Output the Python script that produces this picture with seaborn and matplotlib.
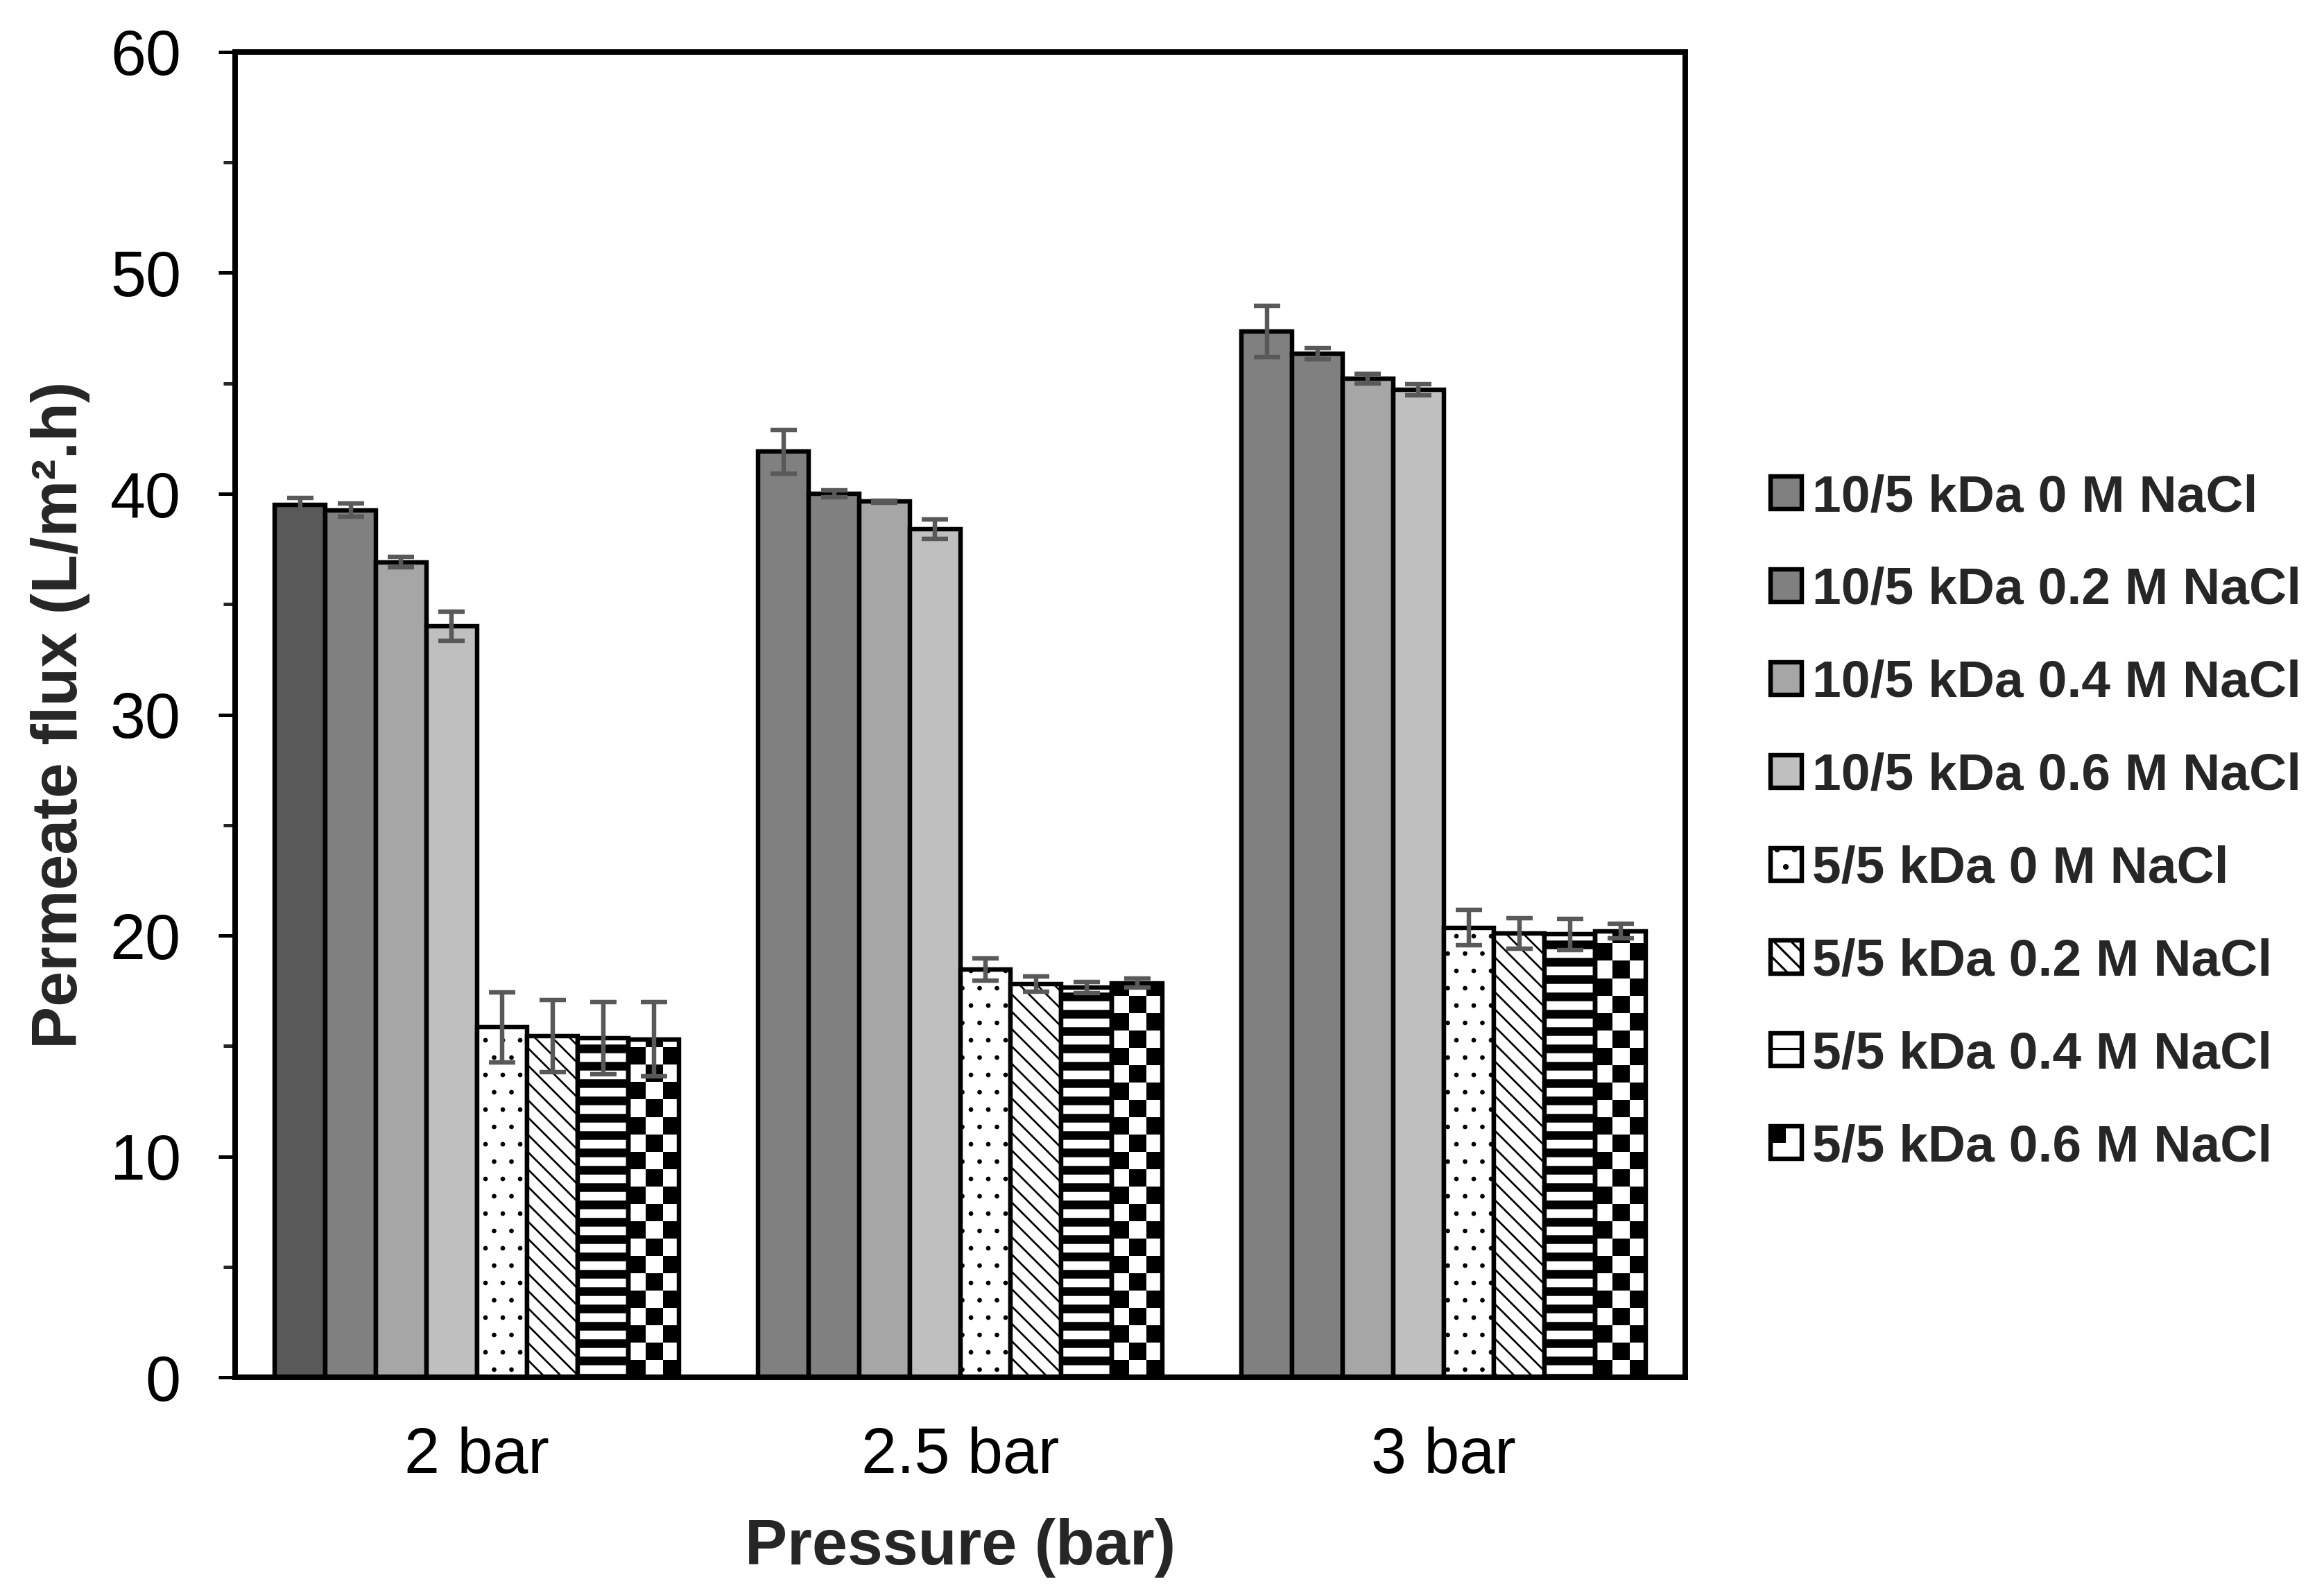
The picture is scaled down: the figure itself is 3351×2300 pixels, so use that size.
import numpy as np
import pandas as pd
import seaborn as sns
import matplotlib.pyplot as plt
import matplotlib.patches as mpatches
from matplotlib.colors import ListedColormap
from matplotlib.legend_handler import HandlerBase
from matplotlib.ticker import MultipleLocator

pressures = ['2 bar', '2.5 bar', '3 bar']
series = [
    '10/5 kDa 0 M NaCl',
    '10/5 kDa 0.2 M NaCl',
    '10/5 kDa 0.4 M NaCl',
    '10/5 kDa 0.6 M NaCl',
    '5/5 kDa 0 M NaCl',
    '5/5 kDa 0.2 M NaCl',
    '5/5 kDa 0.4 M NaCl',
    '5/5 kDa 0.6 M NaCl',
]

# permeate flux per series, one value per pressure
flux_10_0 = [39.5, 41.9, 47.35]
flux_10_02 = [39.25, 40.0, 46.35]
flux_10_04 = [36.9, 39.65, 45.2]
flux_10_06 = [34.0, 38.4, 44.7]
flux_5_0 = [15.85, 18.45, 20.35]
flux_5_02 = [15.45, 17.8, 20.1]
flux_5_04 = [15.35, 17.65, 20.05]
flux_5_06 = [15.3, 17.85, 20.2]

# standard deviations
sd_10_0 = [0.3, 1.0, 1.17]
sd_10_02 = [0.3, 0.15, 0.25]
sd_10_04 = [0.24, 0.05, 0.22]
sd_10_06 = [0.67, 0.45, 0.25]
sd_5_0 = [1.58, 0.5, 0.8]
sd_5_02 = [1.64, 0.35, 0.7]
sd_5_04 = [1.63, 0.25, 0.72]
sd_5_06 = [1.68, 0.2, 0.33]

flux = [flux_10_0, flux_10_02, flux_10_04, flux_10_06,
        flux_5_0, flux_5_02, flux_5_04, flux_5_06]
flux_sd = [sd_10_0, sd_10_02, sd_10_04, sd_10_06,
           sd_5_0, sd_5_02, sd_5_04, sd_5_06]

bar_colors = ['#808080', '#808080', '#A6A6A6', '#BFBFBF',
              'white', 'white', 'white', 'white']
hatches = [None, None, None, None, '.', '\\\\', '-', None]
hatch_lw = [1.0, 1.0, 1.0, 1.0, 0.8, 1.3, 6.0, 1.0]

rows = []
for s, vals in zip(series, flux):
    for p, v in zip(pressures, vals):
        rows.append({'pressure': p, 'series': s, 'flux': v})
df = pd.DataFrame(rows)

sns.set_style('ticks')
plt.rcParams['font.family'] = ['Liberation Sans', 'DejaVu Sans']
plt.rcParams['hatch.linewidth'] = 1.5

DPI = 150
fig = plt.figure(figsize=(3351 / DPI, 2300 / DPI), dpi=DPI)
ax = fig.add_axes([0.1012, 0.1365, 0.6240, 0.8309])

EDGE_LW = 3.1

sns.barplot(
    data=df, x='pressure', y='flux', hue='series',
    order=pressures, hue_order=series,
    palette=dict(zip(series, bar_colors)),
    width=0.836, edgecolor='black', linewidth=EDGE_LW,
    saturation=1, errorbar=None, legend=False, ax=ax
)


def set_hlw(patch, lw):
    if hasattr(patch, 'set_hatch_linewidth'):
        patch.set_hatch_linewidth(lw)


# the very first bar is drawn darker in the original figure
ax.containers[0][0].set_facecolor('#595959')

ax_w_px = 0.6240 * 3351
ax_h_px = 0.8309 * 2300
cell_x = 25 * 3.0 / ax_w_px
cell_y = 25 * 60.0 / ax_h_px
checker_cmap = ListedColormap(['white', 'black'])

xs, ys, es = [], [], []
for k, cont in enumerate(ax.containers):
    for j, bar in enumerate(cont):
        if hatches[k]:
            bar.set_hatch(hatches[k])
            set_hlw(bar, hatch_lw[k])
        if k == 7:
            # checkerboard fill, clipped to the bar
            bar.set_facecolor('none')
            x0 = bar.get_x()
            nx = int(np.ceil(bar.get_width() / cell_x))
            ny = int(np.ceil(bar.get_height() / cell_y))
            board = (np.add.outer(np.arange(ny), np.arange(nx)) % 2 == 0).astype(int)
            im = ax.imshow(board, cmap=checker_cmap, origin='lower',
                           extent=(x0, x0 + nx * cell_x, 0, ny * cell_y),
                           interpolation='nearest', aspect='auto', zorder=0.9)
            im.set_clip_path(bar)
        xs.append(bar.get_x() + bar.get_width() / 2)
        ys.append(bar.get_height())
        es.append(flux_sd[k][j])

ax.errorbar(xs, ys, yerr=es, fmt='none', ecolor='#595959',
            elinewidth=3.1, capsize=9.1, capthick=3.1, zorder=3)

ax.set_xlim(-0.5, 2.5)
ax.set_ylim(0, 60)
ax.yaxis.set_major_locator(MultipleLocator(10))
ax.yaxis.set_minor_locator(MultipleLocator(5))

for side in ['left', 'right', 'top', 'bottom']:
    ax.spines[side].set_visible(True)
    ax.spines[side].set_linewidth(3.8)
    ax.spines[side].set_color('black')

ax.tick_params(axis='y', which='major', direction='out', length=11.5, width=2.4,
               pad=26, labelsize=44, colors='black')
ax.tick_params(axis='y', which='minor', direction='out', length=8, width=2.4)
ax.tick_params(axis='x', which='major', length=0, pad=34, labelsize=44, colors='black')

ax.set_xlabel('Pressure (bar)', fontsize=44, fontweight='bold', labelpad=22)
ax.set_ylabel('Permeate flux (L/m\u00b2.h)', fontsize=44, fontweight='bold', labelpad=14)


class CheckerHandler(HandlerBase):
    def create_artists(self, legend, orig_handle, xdescent, ydescent,
                       width, height, fontsize, trans):
        box = mpatches.Rectangle((-xdescent, -ydescent), width, height,
                                 facecolor='white', edgecolor='black',
                                 lw=EDGE_LW, transform=trans)
        quad = mpatches.Rectangle((-xdescent, -ydescent + height / 2),
                                  width / 2, height / 2, facecolor='black',
                                  lw=0, transform=trans)
        return [box, quad]


handles = []
for k in range(8):
    h = mpatches.Patch(facecolor=bar_colors[k], edgecolor='black', lw=EDGE_LW,
                       hatch=hatches[k], label=series[k])
    set_hlw(h, hatch_lw[k])
    handles.append(h)

leg = fig.legend(handles=handles, loc='center left', bbox_to_anchor=(0.7618, 0.4843),
                 frameon=False, borderpad=0, borderaxespad=0,
                 handlelength=0.6, handleheight=0.59,
                 handletextpad=0.2, labelspacing=0.865,
                 prop={'size': 36, 'weight': 'bold'},
                 handler_map={handles[7]: CheckerHandler()})

fig.savefig('out.png', dpi=DPI)
